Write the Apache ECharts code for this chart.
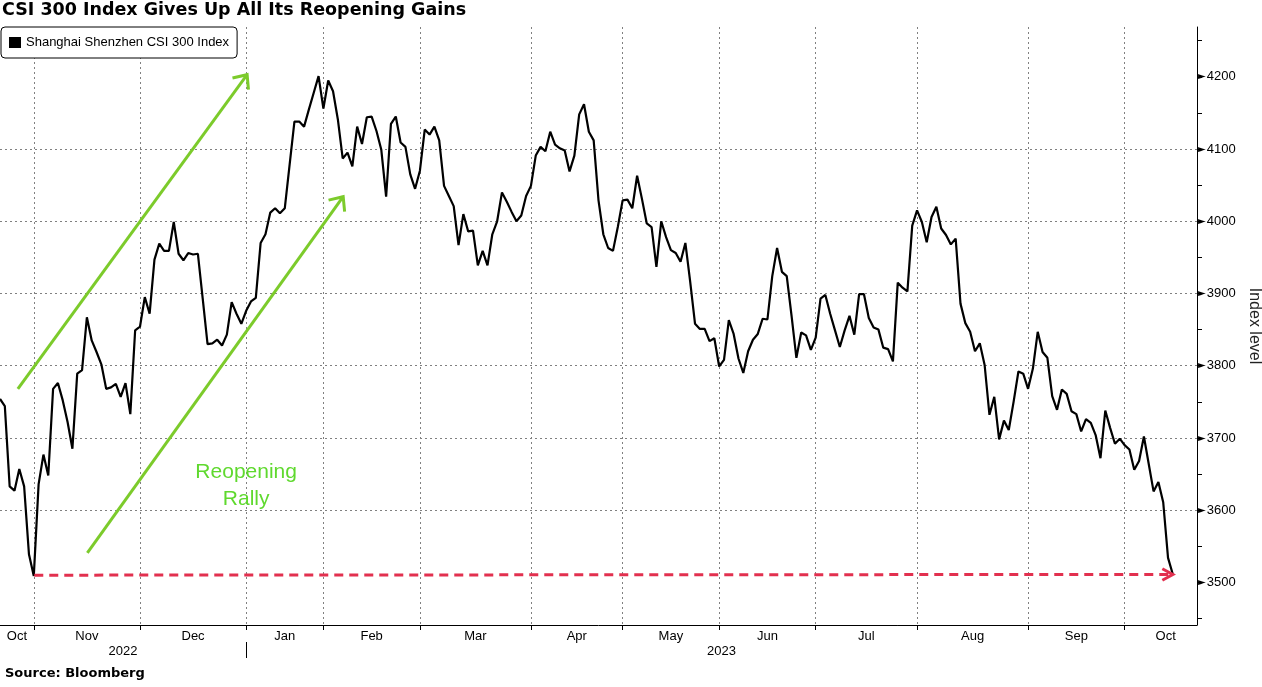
<!DOCTYPE html>
<html>
<head>
<meta charset="utf-8">
<script src="https://cdn.jsdelivr.net/npm/echarts@6/dist/echarts.min.js"></script>
<style>html,body{margin:0;padding:0;background:#fff}#c{width:1262px;height:687px}</style>
</head>
<body>
<div id="c"></div>
<script>
// ---------- data ----------
const chartTitle = 'CSI 300 Index Gives Up All Its Reopening Gains';
const seriesName = 'Shanghai Shenzhen CSI 300 Index';
const sourceText = 'Source: Bloomberg';
const yAxisName = 'Index level';
const monthNames = ['Oct','Nov','Dec','Jan','Feb','Mar','Apr','May','Jun','Jul','Aug','Sep','Oct'];
const monthTradingDays = [8,22,22,16,20,23,19,20,20,21,23,20,10];
const yearNames = ['2022','2023'];
const monthsPerYear = [3,10];
const yLabelTicks = [3500,3600,3700,3800,3900,4000,4100,4200];
const yMinorTicks = [3450,3500,3550,3600,3650,3700,3750,3800,3850,3900,3950,4000,4050,4100,4150,4200,4250];
const csi300 = [
3754,3744,3633,3627,3657,3633,3539,3509,3636,3677,
3648,3768,3776,3752,3722,3685,3789,3794,3867,3835,
3819,3802,3768,3770,3775,3757,3776,3733,3849,3854,
3895,3872,3947,3969,3959,3959,3999,3955,3946,3956,
3954,3955,3893,3830,3831,3836,3828,3843,3888,3872,
3858,3876,3889,3894,3970,3982,4012,4018,4011,4018,
4078,4138,4138,4131,4155,4178,4201,4156,4195,4180,
4141,4087,4095,4076,4131,4107,4144,4145,4125,4099,
4034,4135,4145,4109,4103,4065,4045,4070,4127,4120,
4131,4112,4049,4035,4021,3967,4010,3986,3987,3939,
3959,3939,3982,4000,4040,4027,4013,4000,4008,4035,
4049,4091,4103,4097,4124,4106,4101,4098,4069,4091,
4148,4162,4124,4112,4029,3982,3963,3959,3992,4029,
4030,4018,4063,4031,3997,3992,3937,4000,3978,3960,
3956,3944,3970,3916,3858,3851,3851,3834,3838,3799,
3808,3863,3844,3810,3790,3820,3836,3844,3865,3864,
3924,3963,3930,3924,3869,3811,3846,3842,3822,3839,
3893,3898,3872,3849,3826,3849,3869,3843,3899,3899,
3866,3853,3850,3825,3823,3806,3915,3908,3903,3994,
4015,3999,3971,4006,4020,3990,3981,3968,3976,3886,
3859,3847,3820,3831,3801,3732,3757,3698,3724,3711,
3750,3792,3789,3768,3796,3847,3819,3811,3758,3739,
3767,3761,3737,3733,3709,3726,3721,3704,3672,3738,
3714,3692,3699,3690,3684,3656,3668,3702,3664,3626,
3639,3611,3534,3511
];
// annotations in data units [tradingDayIndex, indexLevel]
const rallyArrowUpper = [[3.7, 3768], [51.2, 4203]];
const rallyArrowLower = [[18.1, 3541], [71.1, 4034]];
const lowLine = [[7.1, 3510], [243, 3511]];
const rallyTextAt = [51, 3634];
const rallyText = 'Reopening\nRally';

// ---------- derived axis helpers ----------
const FONT = "'Liberation Sans', Arial, sans-serif";
const nDays = csi300.length;
const xMax = nDays + 4;
let acc = 0;
const monthEnds = monthTradingDays.map(d => (acc += d) - 1);
const gridIdx = monthEnds.slice(0, -1);
const bounds = [0].concat(gridIdx, [xMax + 2]);
const monthLabelPos = monthNames.map((_, i) => (bounds[i] + bounds[i + 1]) / 2);
const monthByPos = {};
monthLabelPos.forEach((p, i) => { monthByPos[p.toFixed(2)] = monthNames[i]; });
const yearBoundary = monthEnds[monthsPerYear[0] - 1];
const yearPos = [yearBoundary / 2, (yearBoundary + xMax) / 2];
const yearByPos = {};
yearPos.forEach((p, i) => { yearByPos[p.toFixed(2)] = yearNames[i]; });

const gridLine = { show: true, lineStyle: { color: '#808080', width: 1, type: [2, 3] } };

const chart = echarts.init(document.getElementById('c'), null, { renderer: 'canvas' });
const option = {
  animation: false,
  backgroundColor: '#fff',
  textStyle: { fontFamily: FONT },
  title: [
    { text: chartTitle, left: 2, top: 0, padding: 0,
      textStyle: { fontFamily: "'DejaVu Sans', Verdana, sans-serif", fontWeight: 'bold', fontSize: 17.5, color: '#000', lineHeight: 21 } },
    { text: sourceText, left: 5, top: 667, padding: 0,
      textStyle: { fontFamily: "'DejaVu Sans', Verdana, sans-serif", fontWeight: 'bold', fontSize: 13, color: '#000' } }
  ],
  legend: {
    data: [seriesName], left: 1, top: 27, padding: [9, 8, 9, 8],
    backgroundColor: '#fff', borderColor: '#000', borderWidth: 1, borderRadius: 4,
    icon: 'rect', itemWidth: 12, itemHeight: 11,
    textStyle: { fontFamily: FONT, fontSize: 13, color: '#000' }
  },
  grid: { left: 0, right: 65, top: 27, bottom: 62, containLabel: false, outerBoundsMode: 'none' },
  xAxis: [
    { type: 'value', min: 0, max: xMax, position: 'bottom',
      axisLine: { show: true, onZero: false, lineStyle: { color: '#000', width: 1 } },
      axisTick: { show: true, customValues: gridIdx, length: 5, lineStyle: { color: '#000' } },
      axisLabel: { customValues: monthLabelPos, margin: 5, fontSize: 13, color: '#000', fontFamily: FONT,
        formatter: v => monthByPos[Number(v).toFixed(2)] || '' },
      splitLine: gridLine },
    { type: 'value', min: 0, max: xMax, position: 'bottom', offset: 17,
      axisLine: { show: false, onZero: false },
      axisTick: { show: true, customValues: [yearBoundary], length: 16, lineStyle: { color: '#000' } },
      axisLabel: { customValues: yearPos, margin: 3, fontSize: 13, color: '#000', fontFamily: FONT,
        formatter: v => yearByPos[Number(v).toFixed(2)] || '' },
      splitLine: { show: false } }
  ],
  yAxis: [
    { type: 'value', position: 'right', min: 3441, max: 4269, scale: true,
      name: yAxisName, nameLocation: 'middle', nameRotate: -90, nameGap: 41,
      nameTextStyle: { fontFamily: FONT, fontSize: 16, color: '#222' },
      axisLine: { show: true, onZero: false, lineStyle: { color: '#000', width: 1 } },
      axisTick: { show: true, customValues: yMinorTicks, length: 5, lineStyle: { color: '#000' } },
      axisLabel: { customValues: yLabelTicks, margin: 1,
        formatter: v => '{tri|►}{num|' + v + '}',
        rich: { tri: { fontSize: 10, color: '#000', fontFamily: "'DejaVu Sans', sans-serif" },
                num: { fontSize: 13, color: '#000', fontFamily: FONT, padding: [0, 0, 0, 1] } } },
      splitLine: { show: false } },
    { type: 'value', position: 'right', min: 3441, max: 4269, scale: true,
      minInterval: 100, maxInterval: 100, splitNumber: 8,
      axisLine: { show: false, onZero: false }, axisTick: { show: false, customValues: yLabelTicks },
      axisLabel: { show: false },
      splitLine: Object.assign({ showMinLine: false, showMaxLine: false }, gridLine) }
  ],
  series: [{
    name: seriesName, type: 'line', xAxisIndex: 0, yAxisIndex: 0,
    data: csi300.map((v, i) => [i, v]),
    showSymbol: false, symbol: 'none',
    lineStyle: { color: '#000', width: 2.2 },
    itemStyle: { color: '#000' },
    z: 5
  }]
};
chart.setOption(option);

// ---------- annotations (positioned through the series' coordinate system) ----------
const toPx = p => chart.convertToPixel({ seriesIndex: 0 }, p);
function head(from, tip, len, ang) {
  const a = Math.atan2(tip[1] - from[1], tip[0] - from[0]);
  return [
    [tip[0] - len * Math.cos(a - ang), tip[1] - len * Math.sin(a - ang)],
    tip,
    [tip[0] - len * Math.cos(a + ang), tip[1] - len * Math.sin(a + ang)]
  ];
}
const GREEN = '#7ccb2b';
const RED = '#e2304f';
const graphics = [];
[rallyArrowUpper, rallyArrowLower].forEach(seg => {
  const s = toPx(seg[0]), t = toPx(seg[1]);
  graphics.push({ type: 'line', z: 20, shape: { x1: s[0], y1: s[1], x2: t[0], y2: t[1] },
    style: { stroke: GREEN, lineWidth: 3 } });
  graphics.push({ type: 'polyline', z: 20, shape: { points: head(s, t, 15, 0.72) },
    style: { stroke: GREEN, lineWidth: 3, fill: null } });
});
(function () {
  const s = toPx(lowLine[0]), t = toPx(lowLine[1]);
  graphics.push({ type: 'line', z: 20, shape: { x1: s[0], y1: s[1], x2: t[0] - 2, y2: t[1] },
    style: { stroke: RED, lineWidth: 3, lineDash: [9, 6] } });
  graphics.push({ type: 'polyline', z: 20, shape: { points: head(s, t, 12, 0.5) },
    style: { stroke: RED, lineWidth: 3, fill: null } });
})();
const tp = toPx(rallyTextAt);
graphics.push({ type: 'text', z: 20, x: tp[0], y: tp[1],
  style: { text: rallyText, fill: '#5fd92e', fontSize: 21, fontFamily: FONT,
    align: 'center', verticalAlign: 'middle', lineHeight: 27 } });
chart.setOption({ graphic: graphics });
</script>
</body>
</html>
